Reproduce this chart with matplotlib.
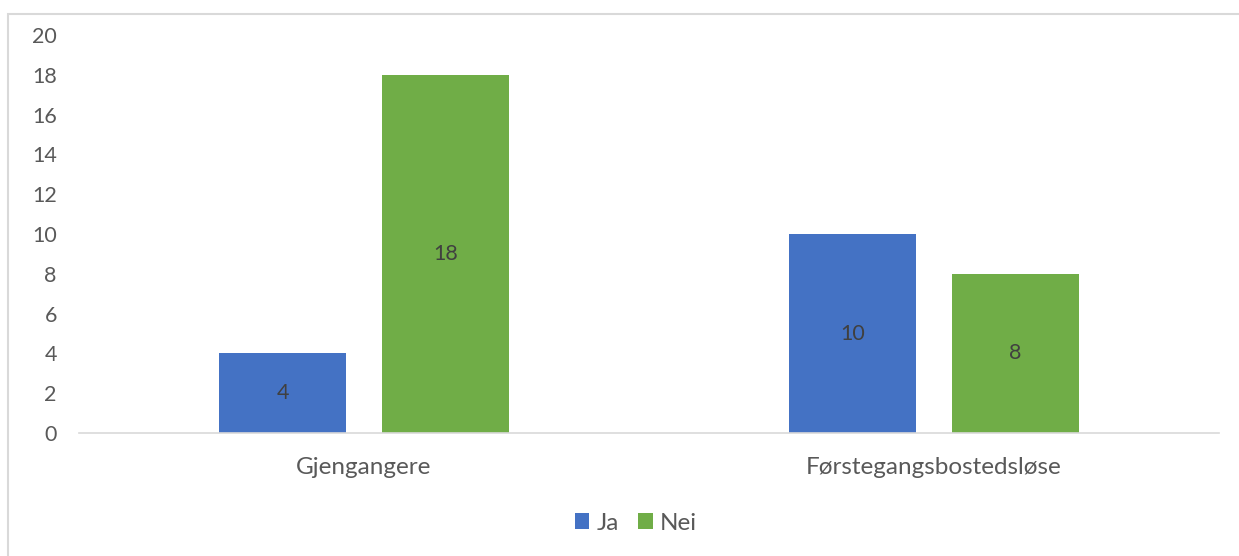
import matplotlib.pyplot as plt
import matplotlib.patches as patches
import numpy as np

categories = ['Gjengangere', 'Førstegangsbostedsløse']
ja = [4, 10]
nei = [18, 8]
series_names = ['Ja', 'Nei']
yticks = [0, 2, 4, 6, 8, 10, 12, 14, 16, 18, 20]

plt.rcParams['font.family'] = ['Lato', 'DejaVu Sans']

fig = plt.figure(figsize=(12.39, 5.56), dpi=100)
ax = fig.add_axes([79 / 1239, 123 / 556, 1140 / 1239, 398 / 556])

x = np.arange(len(categories))
w = 0.223
off = 0.1425
b1 = ax.bar(x - off, ja, w, color='#4472C4', label=series_names[0])
b2 = ax.bar(x + off, nei, w, color='#70AD47', label=series_names[1])

for bars in (b1, b2):
    for r in bars:
        h = r.get_height()
        ax.text(r.get_x() + r.get_width() / 2, h / 2, '%d' % h,
                ha='center', va='center', fontsize=15.5, color='#404040')

ax.set_xlim(-0.5, 1.5)
ax.set_ylim(0, 20)
ax.set_yticks(yticks)
ax.set_xticks(x)
ax.set_xticklabels(categories)
ax.tick_params(axis='both', length=0, colors='#595959')
ax.tick_params(axis='y', pad=16, labelsize=15.5)
ax.tick_params(axis='x', pad=17, labelsize=17.5)
for s in ['top', 'right', 'left']:
    ax.spines[s].set_visible(False)
ax.spines['bottom'].set_color('#D9D9D9')
ax.spines['bottom'].set_linewidth(1.2)

fig.legend(loc='center', bbox_to_anchor=(636 / 1239, 1 - 523 / 556), ncol=2,
           frameon=False, fontsize=17.5, handlelength=0.6, handleheight=0.6,
           handletextpad=0.3, columnspacing=0.8, labelcolor='#595959')

# chart border
fig.patches.append(patches.Rectangle((7.5 / 1239, -0.1), 1.2, 1 - 14 / 556 + 0.1,
                                     transform=fig.transFigure, fill=False,
                                     edgecolor='#D9D9D9', linewidth=1.5))

fig.savefig('out.png', dpi=100)
